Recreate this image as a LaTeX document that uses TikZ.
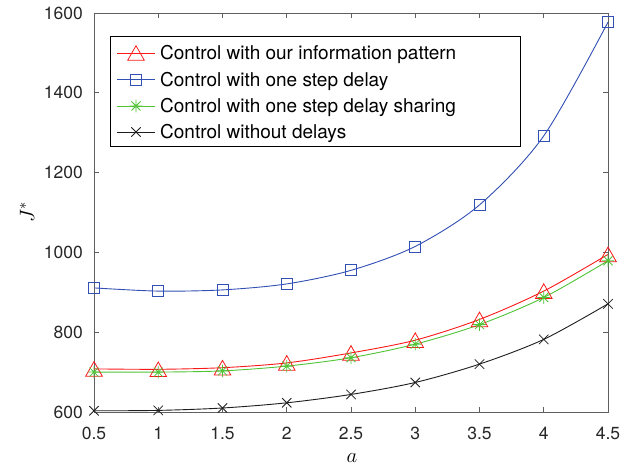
\documentclass[tikz,border=0pt]{standalone}
\usepackage{fontspec}
\setmainfont{TeX Gyre Heros}
\usetikzlibrary{plotmarks}
\definecolor{cred}{RGB}{250,25,25}
\definecolor{cblue}{RGB}{50,80,180}
\definecolor{cgreen}{RGB}{80,195,55}
\definecolor{cblack}{RGB}{30,30,30}
\definecolor{caxis}{RGB}{95,95,95}
\definecolor{clabel}{RGB}{40,40,40}
\pgfdeclareplotmark{mtri}{\pgfpathmoveto{\pgfqpoint{0pt}{7.3pt}}\pgfpathlineto{\pgfqpoint{-8.3pt}{-7.3pt}}\pgfpathlineto{\pgfqpoint{8.3pt}{-7.3pt}}\pgfpathclose\pgfusepathqstroke}
\pgfdeclareplotmark{msq}{\pgfpathrectangle{\pgfqpoint{-5.5pt}{-5.5pt}}{\pgfqpoint{11pt}{11pt}}\pgfusepathqstroke}
\pgfdeclareplotmark{mstar}{%
\pgfpathmoveto{\pgfqpoint{0pt}{-6.3pt}}\pgfpathlineto{\pgfqpoint{0pt}{6.3pt}}%
\pgfpathmoveto{\pgfqpoint{-6.3pt}{0pt}}\pgfpathlineto{\pgfqpoint{6.3pt}{0pt}}%
\pgfpathmoveto{\pgfqpoint{-4.5pt}{-4.5pt}}\pgfpathlineto{\pgfqpoint{4.5pt}{4.5pt}}%
\pgfpathmoveto{\pgfqpoint{-4.5pt}{4.5pt}}\pgfpathlineto{\pgfqpoint{4.5pt}{-4.5pt}}%
\pgfusepathqstroke}
\pgfdeclareplotmark{mx}{%
\pgfpathmoveto{\pgfqpoint{-4.7pt}{-4.7pt}}\pgfpathlineto{\pgfqpoint{4.7pt}{4.7pt}}%
\pgfpathmoveto{\pgfqpoint{-4.7pt}{4.7pt}}\pgfpathlineto{\pgfqpoint{4.7pt}{-4.7pt}}%
\pgfusepathqstroke}
\tikzset{
  axisline/.style={draw=caxis,line width=0.8pt},
  ticklab/.style={text=clabel,inner sep=0pt,font=\fontsize{17.5}{20}\selectfont},
  legtext/.style={text=black,inner sep=0pt,anchor=base west,font=\fontsize{19}{22}\selectfont},
  curve/.style={line width=0.9pt,smooth,tension=0.5},
  marks/.style={line width=0.8pt},
}
\begin{document}
\begin{tikzpicture}[x=1pt,y=1pt]
\useasboundingbox[fill=white] (0,0) rectangle (633,470);
\begin{scope}[x=128.5pt,y=0.399pt,xshift=29.75pt,yshift=-181.4pt]
  % axes box
  \draw[axisline] (0.5,600) rectangle (4.5,1600);
  \foreach \t in {0.5,1,...,4.5}{
    \draw[axisline] (\t,600) -- ++(0pt,5pt);
    \draw[axisline] (\t,1600) -- ++(0pt,-5pt);
    \node[ticklab,anchor=base] at ([yshift=-28pt]\t,600) {\t};
  }
  \foreach \v in {600,800,...,1600}{
    \draw[axisline] (0.5,\v) -- ++(5pt,0pt);
    \draw[axisline] (4.5,\v) -- ++(-5pt,0pt);
    \node[ticklab,anchor=base east] at ([xshift=-11pt,yshift=-6.2pt]0.5,\v) {\v};
  }
  % curves
  \draw[curve,color=cblue] plot coordinates {(0.5,911)(1,903)(1.5,906)(2,921)(2.5,955)(3,1015)(3.5,1119)(4,1292)(4.5,1577)};
  \draw[curve,color=cred] plot coordinates {(0.5,708)(1,707)(1.5,711)(2,723)(2.5,748)(3,780)(3.5,832)(4,903)(4.5,995)};
  \draw[curve,color=cgreen] plot coordinates {(0.5,700)(1,700)(1.5,703)(2,715)(2.5,736)(3,770)(3.5,819)(4,887)(4.5,979)};
  \draw[curve,color=cblack] plot coordinates {(0.5,603)(1,604)(1.5,610)(2,623)(2.5,644)(3,674)(3.5,720)(4,782)(4.5,871)};
  % markers
  \draw[marks,color=cblue] plot[only marks,mark=msq] coordinates {(0.5,911)(1,903)(1.5,906)(2,921)(2.5,955)(3,1015)(3.5,1119)(4,1292)(4.5,1577)};
  \draw[marks,color=cred] plot[only marks,mark=mtri] coordinates {(0.5,708)(1,707)(1.5,711)(2,723)(2.5,748)(3,780)(3.5,832)(4,903)(4.5,995)};
  \draw[marks,color=cgreen] plot[only marks,mark=mstar] coordinates {(0.5,700)(1,700)(1.5,703)(2,715)(2.5,736)(3,770)(3.5,819)(4,887)(4.5,979)};
  \draw[marks,color=cblack] plot[only marks,mark=mx] coordinates {(0.5,603)(1,604)(1.5,610)(2,623)(2.5,644)(3,674)(3.5,720)(4,782)(4.5,871)};
\end{scope}
% axis labels
\node[rotate=90,inner sep=0pt,font=\fontsize{20}{24}\selectfont] (ylab) at (27,258) {$J^*$};
\node[inner sep=0pt,font=\fontsize{20}{24}\selectfont] (xlab) at (352,12) {$a$};
% legend
\draw[fill=white,draw=black,line width=0.8pt] (110,324) rectangle (520,434);
\foreach \yy/\col/\mk/\txt in {417/cred/mtri/Control with our information pattern,390.5/cblue/msq/Control with one step delay,364/cgreen/mstar/Control with one step delay sharing,338/cblack/mx/Control without delays}{
  \draw[line width=0.9pt,color=\col] (117,\yy) -- (155,\yy);
  \draw[marks,color=\col] plot[only marks,mark=\mk] coordinates {(136,\yy)};
  \node[legtext] at (160,\yy-6.8) {\txt};
}
\end{tikzpicture}
\end{document}
